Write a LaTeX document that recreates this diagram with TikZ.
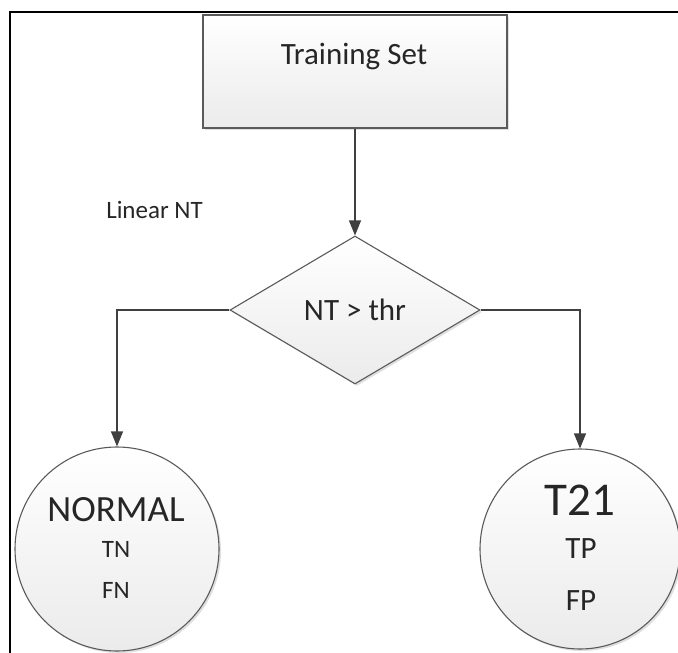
\documentclass[tikz,border=0pt]{standalone}
\usepackage{fontspec}
\setmainfont{Carlito}
\usetikzlibrary{arrows.meta,shapes.geometric,shadows}

\definecolor{edgegray}{HTML}{5A5A5A}
\definecolor{linegray}{HTML}{404040}
\definecolor{inkgray}{HTML}{262626}
\definecolor{fillbottom}{HTML}{EBEBEB}

\tikzset{
  shade/.style={top color=white, bottom color=fillbottom, draw=edgegray, line width=1.1pt,
    drop shadow={opacity=0.25, shadow xshift=2pt, shadow yshift=-2pt}},
  procbox/.style={shade, rectangle, minimum width=304pt, minimum height=113pt, inner sep=0pt},
  decision/.style={shade, diamond, minimum width=250pt, minimum height=148pt, inner sep=0pt,
    font=\fontsize{31}{31}\selectfont, text=inkgray},
  outcome/.style={shade, circle, minimum size=#1, inner sep=0pt},
  flow/.style={draw=linegray, line width=1.1pt, -{Triangle[length=15pt,width=12pt]}},
  txt/.style={anchor=base, inner sep=0pt, text=inkgray, font=\fontsize{#1}{#1}\selectfont},
}

\begin{document}
\begin{tikzpicture}[x=1pt, y=-1pt]
  \useasboundingbox (0,0) rectangle (678,653);

  % outer frame
  \draw[line width=2pt, black] (678,12) -- (10,12) -- (10,653);

  % shapes
  \node[procbox] (train) at (355,71.5) {};
  \node[txt=31] (traintxt) at (354,64) {Training Set};

  \node[decision] (dec) at (355,310) {NT > thr};
  \node[txt=25] (lin) at (154.5,218) {Linear NT};

  \node[outcome=204pt] (normal) at (117,549) {};
  \node[txt=37] (normaltxt) at (116,521) {NORMAL};
  \node[txt=25] (tn) at (116,557) {TN};
  \node[txt=25] (fn) at (116,598) {FN};

  \node[outcome=200pt] (t21) at (580,549) {};
  \node[txt=47] (t21txt) at (580,515) {T21};
  \node[txt=31] (tp) at (581,558) {TP};
  \node[txt=31] (fp) at (581,610) {FP};

  % connectors
  \draw[flow] (train.south) -- (dec.north);
  \draw[flow] (dec.west) -| (normal.north);
  \draw[flow] (dec.east) -| (t21.north);
\end{tikzpicture}
\end{document}
